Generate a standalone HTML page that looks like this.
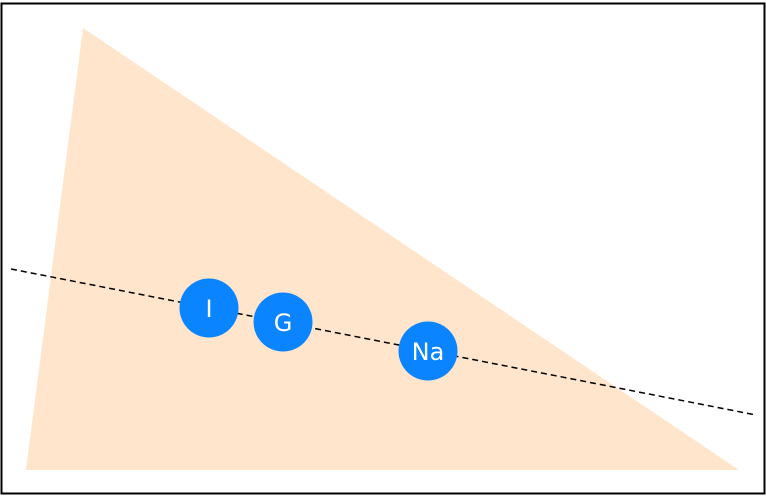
<!DOCTYPE html>
<html><head><style>body{margin:0;background:#fff}svg{display:block}</style></head><body>
<svg width="766" height="496" viewBox="0 0 766 496" xmlns="http://www.w3.org/2000/svg">
<rect x="1.5" y="3.5" width="763" height="490" fill="#fff" stroke="#000" stroke-width="2"/>
<polygon points="83,28 26,470 739,470" fill="#ffe5cc"/>
<line x1="11" y1="269" x2="756" y2="415" stroke="#000" stroke-width="1.5" stroke-dasharray="6,4"/>
<g fill="#0a84ff">
<circle cx="209" cy="308" r="29.5"/>
<circle cx="283" cy="322" r="29.5"/>
<circle cx="428" cy="351" r="29.5"/>
</g>
<g fill="#fff" font-family="DejaVu Sans, sans-serif" font-size="24" text-anchor="middle">
<text x="209" y="317">I</text>
<text x="283" y="331">G</text>
<text x="428" y="360">Na</text>
</g>
</svg>
</body></html>
